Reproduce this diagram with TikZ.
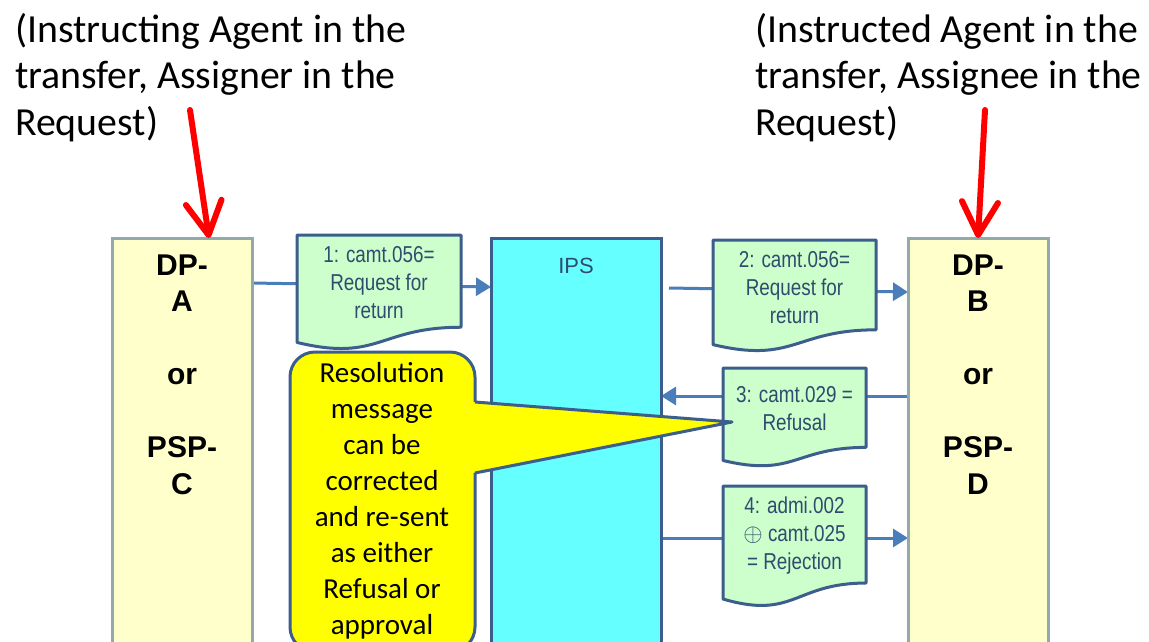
\documentclass[tikz,border=0pt]{standalone}
\usepackage{fontspec}
\setmainfont{Carlito}
\newfontfamily\arialfont{Liberation Sans}
\newfontfamily\narrowfont[FakeStretch=0.82]{Liberation Sans}
\usetikzlibrary{arrows.meta,calc}
\definecolor{dpfill}{HTML}{FFFFCC}
\definecolor{dpdraw}{HTML}{93AAAA}
\definecolor{ipsfill}{HTML}{66FFFF}
\definecolor{bluedraw}{HTML}{3B5E8C}
\definecolor{msgfill}{HTML}{CCFFCC}
\definecolor{msgtext}{HTML}{2F4B6E}
\definecolor{connblue}{HTML}{4A7EBB}
\definecolor{callfill}{HTML}{FFFF00}
\definecolor{redarrow}{HTML}{FF0000}
\pgfdeclarelayer{bglayer}
\pgfdeclarelayer{connlayer}
\pgfdeclarelayer{shapelayer}
\pgfsetlayers{bglayer,connlayer,shapelayer,main}
\tikzset{
  dpbox/.style={draw=dpdraw, fill=dpfill, line width=3pt, inner sep=0pt, outer sep=0pt, anchor=north west, minimum width=140, minimum height=430},
  ipsbox/.style={draw=bluedraw, fill=ipsfill, line width=3pt, inner sep=0pt, outer sep=0pt, anchor=north west, minimum width=170, minimum height=430},
  dptext/.style={font=\fontsize{30}{36.5}\selectfont\arialfont\bfseries, align=center, anchor=base, inner sep=0pt},
  toptext/.style={font=\fontsize{39.8}{46.5}\selectfont, align=left, anchor=base west, inner sep=0pt},
  msgbox/.style={inner sep=0pt, outer sep=0pt},
  docshape/.style={draw=bluedraw, fill=msgfill, line width=3pt, line join=round},
  msgtext/.style={font=\fontsize{23}{28}\selectfont\narrowfont, text=msgtext, align=center, inner sep=0pt},
  conn/.style={draw=connblue, line width=3pt},
  connarrow/.style={conn, -{Triangle[length=15pt,width=18pt]}},
  redarr/.style={draw=redarrow, line width=6pt, line cap=round, -{Straight Barb[length=33pt,width=36pt,round]}},
  callbox/.style={draw=bluedraw, fill=callfill, line width=3pt, rounded corners=25pt, inner sep=0pt, outer sep=0pt, anchor=north west, minimum width=185, minimum height=300},
  calltext/.style={font=\fontsize{29}{36}\selectfont, align=center, anchor=base, inner sep=0pt}
}
\newcommand{\docpath}[1]{%
  \path[docshape] (#1.north west) -- (#1.north east) -- ($(#1.north east)!0.802!(#1.south east)$)
    .. controls ($(#1.north)!0.802!(#1.south)$) and ($(#1.north)!1.107!(#1.south)$) ..
    ($(#1.north west)!0.934!(#1.south west)$) -- cycle;}
\begin{document}
\begin{tikzpicture}[x=1pt,y=-1pt]
\begin{pgfonlayer}{bglayer}
\fill[white] (0,0) rectangle (1149,641);
\end{pgfonlayer}
\useasboundingbox (0,0) rectangle (1149,641);

% top texts (anchor = baseline of last line)
\node[toptext] (lefttxt) at (15,135) {(Instructing Agent in the\\transfer, Assigner in the\\Request)};
\node[toptext] (righttxt) at (755,135) {(Instructed Agent in the\\transfer, Assignee in the\\Request)};

% boxes
\node[dpbox] (dpa) at (112,238) {};
\node[dpbox] (dpb) at (908,238) {};
\node[ipsbox] (ips) at (491,238) {};

\node[dptext] (dpatext) at (182,494) {DP-\\A\\[36.5pt]or\\[36.5pt]PSP-\\C};
\node[dptext] (dpbtext) at (978,494) {DP-\\B\\[36.5pt]or\\[36.5pt]PSP-\\D};
\node[font=\fontsize{22}{26}\selectfont\arialfont, text=msgtext, anchor=base, inner sep=0pt] (ipstext) at (576,273) {IPS};

% red arrows
\coordinate (redA) at (190,110);
\coordinate (redB) at (985,110);
\draw[redarr] (redA) -- ([xshift=27pt]dpa.north);
\draw[redarr] (redB) -- ([xshift=0pt]dpb.north);

% message boxes
\node[msgbox, minimum width=164, minimum height=115] (m1) at (379,292.5) {};
\node[msgbox, minimum width=163, minimum height=112] (m2) at (794.5,296) {};
\node[msgbox, minimum width=143, minimum height=99] (m3) at (794.5,417.5) {};
\node[msgbox, minimum width=143, minimum height=121] (m4) at (794.5,546.5) {};

\begin{pgfonlayer}{shapelayer}
  \docpath{m1}
  \docpath{m2}
  \docpath{m3}
  \docpath{m4}
\end{pgfonlayer}

\node[msgtext] (m1t) at ([yshift=9.5pt]m1.center) {1: camt.056=\\Request for\\return};
\node[msgtext] (m2t) at ([yshift=8pt]m2.center) {2: camt.056=\\Request for\\return};
\node[msgtext] (m3t) at ([yshift=8.5pt]m3.center) {3: camt.029 =\\Refusal};
\node[msgtext] (m4t) at ([yshift=10.5pt]m4.center) {4: admi.002\\$\oplus$ camt.025\\= Rejection};

% connectors
\begin{pgfonlayer}{connlayer}
  \draw[connarrow] ([yshift=-45pt]dpa.north east) -- ([yshift=-49pt]ips.north west);
  \draw[connarrow] ([xshift=8pt,yshift=-50pt]ips.north east) -- ([yshift=-54pt]dpb.north west);
  \draw[connarrow] ([yshift=-158pt]dpb.north west) -- ([yshift=-158pt]ips.north east);
  \draw[connarrow] ([yshift=-300pt]ips.north east) -- ([yshift=-300pt]dpb.north west);
\end{pgfonlayer}

% callout
\node[callbox] (callout) at (290,352) {};
\coordinate (calltip) at ([xshift=9pt,yshift=-4.5pt]m3.west);
\fill[callfill] ([xshift=-2.5pt,yshift=-50pt]callout.north east) -- (calltip) -- ([xshift=-2.5pt,yshift=-121pt]callout.north east) -- cycle;
\draw[draw=bluedraw, line width=3pt, line join=round] ([yshift=-50pt]callout.north east) -- (calltip) -- ([yshift=-121pt]callout.north east);
\node[calltext] (calltxt) at (382,634) {Resolution\\message\\can be\\corrected\\and re-sent\\as either\\Refusal or\\approval};
\end{tikzpicture}
\end{document}
